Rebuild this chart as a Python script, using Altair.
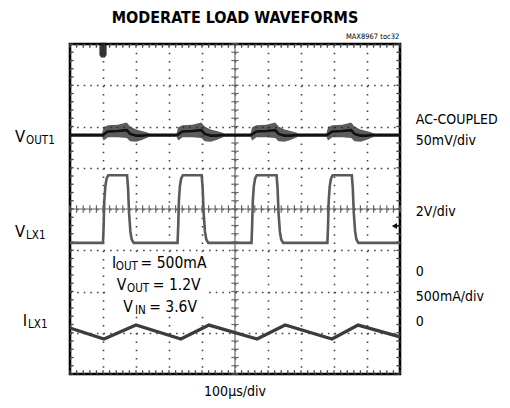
import altair as alt
import pandas as pd

FONT = "DejaVu Sans Condensed, Liberation Sans, sans-serif"

# Horizontal axis: time in µs (10 div x 100 µs). Vertical axis: screen divisions (0..8).

# V_LX1 switching node (div)
lx_t = [0, 100, 102, 104, 107, 111, 116, 173, 176, 179, 183, 187, 193,
        326, 328, 330, 333, 337, 342, 399, 402, 405, 409, 413, 419,
        550, 552, 554, 557, 561, 566, 626, 629, 632, 636, 640, 646,
        780, 782, 784, 787, 791, 796, 854, 857, 860, 864, 868, 874, 1000]
lx_v = [3.18, 3.18, 3.60, 4.20, 4.55, 4.74, 4.82, 4.82, 4.50, 3.90, 3.45, 3.26, 3.18,
        3.18, 3.60, 4.20, 4.55, 4.74, 4.82, 4.82, 4.50, 3.90, 3.45, 3.26, 3.18,
        3.18, 3.60, 4.20, 4.55, 4.74, 4.82, 4.82, 4.50, 3.90, 3.45, 3.26, 3.18,
        3.18, 3.60, 4.20, 4.55, 4.74, 4.82, 4.82, 4.50, 3.90, 3.45, 3.26, 3.18, 3.18]

# I_LX1 inductor current (div)
il_t = [0, 103, 200, 336, 421, 567, 652, 794, 873, 1000]
il_v = [1.115, 0.848, 1.188, 0.848, 1.188, 0.848, 1.188, 0.848, 1.188, 0.90]

# V_OUT1 ripple: centre line and noise envelope (div)
vo_t = [0,
        97, 102, 115, 145, 172, 182, 200, 218, 232, 242,
        323, 328, 341, 371, 398, 408, 426, 444, 458, 468,
        547, 552, 565, 595, 622, 632, 650, 668, 682, 692,
        777, 782, 795, 825, 852, 862, 880, 898, 912, 922,
        1000]
vo_mid = [5.79,
          5.79, 5.81, 5.88, 5.89, 5.91, 5.82, 5.78, 5.78, 5.79, 5.79,
          5.79, 5.81, 5.88, 5.89, 5.91, 5.82, 5.78, 5.78, 5.79, 5.79,
          5.79, 5.81, 5.88, 5.89, 5.91, 5.82, 5.78, 5.78, 5.79, 5.79,
          5.79, 5.81, 5.88, 5.89, 5.91, 5.82, 5.78, 5.78, 5.79, 5.79,
          5.79]
vo_lo = [5.75,
         5.75, 5.66, 5.74, 5.74, 5.72, 5.64, 5.63, 5.67, 5.72, 5.75,
         5.75, 5.66, 5.74, 5.74, 5.72, 5.64, 5.63, 5.67, 5.72, 5.75,
         5.75, 5.66, 5.74, 5.74, 5.72, 5.64, 5.63, 5.67, 5.72, 5.75,
         5.75, 5.66, 5.74, 5.74, 5.72, 5.64, 5.63, 5.67, 5.72, 5.75,
         5.75]
vo_hi = [5.83,
         5.83, 5.98, 6.03, 6.04, 6.10, 6.00, 5.93, 5.89, 5.86, 5.83,
         5.83, 5.98, 6.03, 6.04, 6.10, 6.00, 5.93, 5.89, 5.86, 5.83,
         5.83, 5.98, 6.03, 6.04, 6.10, 6.00, 5.93, 5.89, 5.86, 5.83,
         5.83, 5.98, 6.03, 6.04, 6.10, 6.00, 5.93, 5.89, 5.86, 5.83,
         5.83]

# Labels
left_main = ["V", "V", "I"]
left_sub = ["OUT1", "LX1", "LX1"]
left_t = [-136, -136, -130]
left_y = [5.62, 3.32, 1.16]

right_text = ["AC-COUPLED", "50mV/div", "2V/div", "0", "500mA/div", "0"]
right_y = [6.16, 5.65, 3.93, 2.47, 1.87, 1.26]

cond_main = ["I", "V", "V"]
cond_main_t = [127, 142, 161]
cond_sub = ["OUT", "OUT", "IN"]
cond_sub_t = [139, 173, 197]
cond_rest = ["= 500mA", "= 1.2V", "= 3.6V"]
cond_rest_t = [214, 251, 240]
cond_y = [2.57, 2.04, 1.50]

XS = alt.Scale(domain=[0, 1000], nice=False, zero=False)
YS = alt.Scale(domain=[0, 8], nice=False, zero=False)
XA = alt.Axis(values=list(range(0, 1001, 100)), grid=True, gridDash=[1.6, 6.65],
              gridColor="#444", gridWidth=1.6, labels=False, ticks=False,
              domain=False, title=None)
YA = alt.Axis(values=list(range(0, 9)), grid=True, gridDash=[1.6, 5.0],
              gridColor="#444", gridWidth=1.6, labels=False, ticks=False,
              domain=False, title=None)


def X(f="t"):
    return alt.X(f"{f}:Q", scale=XS, axis=XA)


def Y(f="y"):
    return alt.Y(f"{f}:Q", scale=YS, axis=YA)


# white patch behind the operating-condition text
box = alt.Chart(pd.DataFrame({"t": [115], "t2": [418], "y": [1.42], "y2": [2.95]})).mark_rect(
    color="white").encode(x=X(), x2="t2:Q", y=Y(), y2="y2:Q")

# centre crosshair with minor ticks
cross_v = alt.Chart(pd.DataFrame({"t": [500], "y": [0], "y2": [8]})).mark_rule(
    color="#666", strokeWidth=1.2).encode(x=X(), y=Y(), y2="y2:Q")
cross_h = alt.Chart(pd.DataFrame({"t": [0], "t2": [1000], "y": [4]})).mark_rule(
    color="#666", strokeWidth=1.2).encode(x=X(), x2="t2:Q", y=Y())

minor_t = [20 * k for k in range(51)]
minor_y = [round(0.2 * k, 2) for k in range(41)]

ticks_h = alt.Chart(pd.DataFrame({"t": minor_t, "y": [3.91] * 51, "y2": [4.09] * 51})).mark_rule(
    color="#666", strokeWidth=1.2).encode(x=X(), y=Y(), y2="y2:Q")
ticks_v = alt.Chart(pd.DataFrame({"t": [489] * 41, "t2": [511] * 41, "y": minor_y})).mark_rule(
    color="#666", strokeWidth=1.2).encode(x=X(), x2="t2:Q", y=Y())

# minor ticks on the graticule border
bt = pd.DataFrame({"t": minor_t * 2, "y": [8.0] * 51 + [0.0] * 51, "y2": [7.91] * 51 + [0.09] * 51})
border_tb = alt.Chart(bt).mark_rule(color="#444", strokeWidth=1.3).encode(x=X(), y=Y(), y2="y2:Q")
bl = pd.DataFrame({"t": [0] * 41 + [1000] * 41, "t2": [11] * 41 + [989] * 41, "y": minor_y * 2})
border_lr = alt.Chart(bl).mark_rule(color="#444", strokeWidth=1.3).encode(x=X(), x2="t2:Q", y=Y())

# traces
vo_df = pd.DataFrame({"t": vo_t, "y": vo_lo, "y2": vo_hi, "m": vo_mid})
vout_band = alt.Chart(vo_df).mark_area(color="#262626", opacity=0.75).encode(
    x=X(), y=Y(), y2="y2:Q")
vout_line = alt.Chart(vo_df).mark_line(color="#111", strokeWidth=2.6).encode(
    x=X(), y=alt.Y("m:Q", scale=YS, axis=YA))
lx = alt.Chart(pd.DataFrame({"t": lx_t, "y": lx_v})).mark_line(
    color="#5a5a5a", strokeWidth=2.6).encode(x=X(), y=Y())
il = alt.Chart(pd.DataFrame({"t": il_t, "y": il_v})).mark_line(
    color="#3c3c3c", strokeWidth=3.4).encode(x=X(), y=Y())

# trigger position marker (top) and trigger level marker (right)
trig = alt.Chart(pd.DataFrame({"t": [100], "y": [7.82]})).mark_point(
    shape="M-0.55,-1 L0.55,-1 L0.55,0.55 L0.3,0.95 L-0.3,0.95 L-0.55,0.55 Z",
    filled=True, color="#333", size=170, opacity=1).encode(x=X(), y=Y())
trig_tip = alt.Chart(pd.DataFrame({"t": [100], "y": [7.98]})).mark_point(
    shape="triangle-down", filled=True, color="#222", size=22, opacity=1).encode(x=X(), y=Y())
lvl = alt.Chart(pd.DataFrame({"t": [983], "y": [3.59]})).mark_point(
    shape="triangle-left", filled=True, color="#111", size=36, opacity=1).encode(x=X(), y=Y())
lvl_stem = alt.Chart(pd.DataFrame({"t": [985], "t2": [1000], "y": [3.59]})).mark_rule(
    color="#111", strokeWidth=1.5).encode(x=X(), x2="t2:Q", y=Y())


def texts(df, **kw):
    return alt.Chart(df).mark_text(font=FONT, color="black", **kw).encode(
        x=X(), y=Y(), text="s:N")


title = texts(pd.DataFrame({"t": [500], "y": [8.63], "s": ["MODERATE LOAD WAVEFORMS"]}),
              fontSize=16, fontWeight="bold", align="center", baseline="middle")
tag = texts(pd.DataFrame({"t": [998], "y": [8.16], "s": ["MAX8967 toc32"]}),
            fontSize=7.5, align="right", baseline="middle")
xdiv = texts(pd.DataFrame({"t": [500], "y": [-0.44], "s": ["100µs/div"]}),
             fontSize=14, align="center", baseline="middle")

lmain = texts(pd.DataFrame({"t": left_t, "y": left_y, "s": left_main}),
              fontSize=16.5, align="right", baseline="alphabetic")
lsub = texts(pd.DataFrame({"t": [v + 3 for v in left_t], "y": left_y, "s": left_sub}),
             fontSize=11.5, align="left", baseline="alphabetic", dy=2)

rlab = texts(pd.DataFrame({"t": [1048] * len(right_text), "y": right_y, "s": right_text}),
             fontSize=14, align="left", baseline="middle")

cmain = texts(pd.DataFrame({"t": cond_main_t, "y": cond_y, "s": cond_main}),
              fontSize=15.5, align="left", baseline="alphabetic")
csub = texts(pd.DataFrame({"t": cond_sub_t, "y": cond_y, "s": cond_sub}),
             fontSize=11.5, align="left", baseline="alphabetic", dy=2)
crest = texts(pd.DataFrame({"t": cond_rest_t, "y": cond_y, "s": cond_rest}),
              fontSize=15.5, align="left", baseline="alphabetic")

chart = alt.layer(
    box, cross_v, cross_h, ticks_h, ticks_v, border_tb, border_lr,
    lx, il, vout_band, vout_line, trig, trig_tip, lvl, lvl_stem,
    title, tag, xdiv, lmain, lsub, rlab, cmain, csub, crest,
).properties(
    width=330, height=330,
    autosize=alt.AutoSizeParams(type="none"),
    padding={"left": 70, "top": 44, "right": 110, "bottom": 34},
    background="white",
).configure_view(stroke="black", strokeWidth=2.6)

chart.save("out.html", embed_options={"renderer": "svg", "actions": False})
